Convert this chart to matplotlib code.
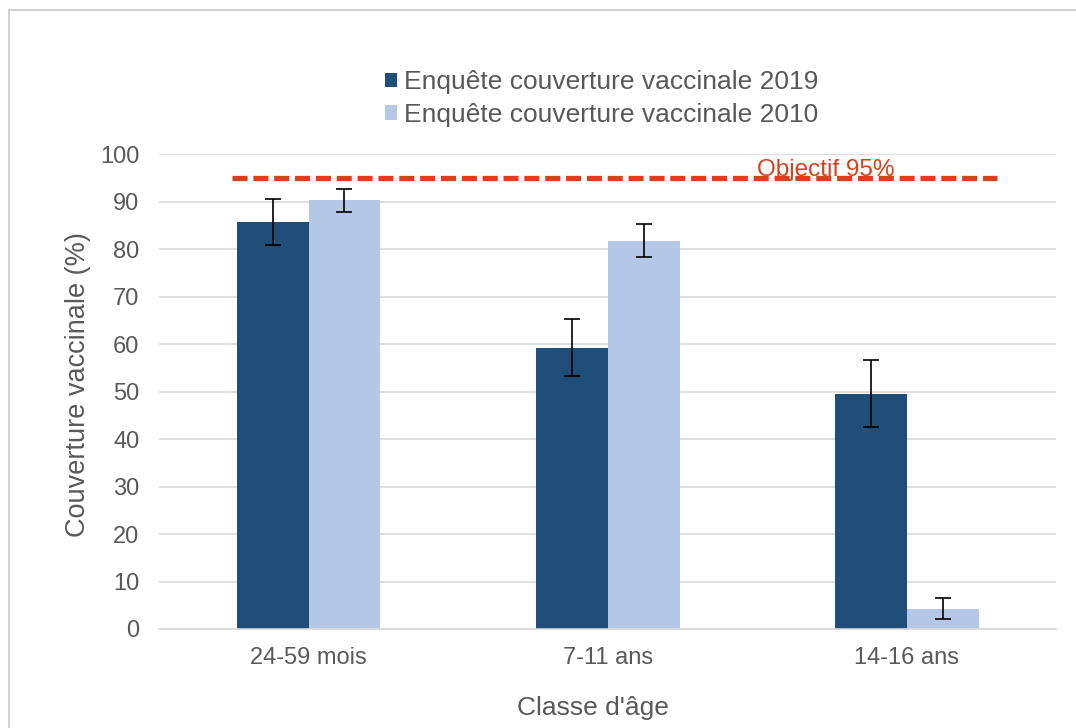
import matplotlib.pyplot as plt
import matplotlib.patches as mpatches
import numpy as np

plt.rcParams['font.family'] = ['Liberation Sans', 'DejaVu Sans']

# données
categories = ['24-59 mois', '7-11 ans', '14-16 ans']
cv_2019 = [85.8, 59.3, 49.6]
err_2019 = [4.8, 6.1, 7.0]
cv_2010 = [90.3, 81.8, 4.3]
err_2010 = [2.5, 3.5, 2.2]
objectif = 95

dark = '#1F4E79'
light = '#B4C7E7'
grid = '#D9D9D9'
red = '#D9411E'
txt = '#595959'

fig = plt.figure(figsize=(10.76, 7.28), dpi=100)
ax = fig.add_axes([0.1478, 0.136, 0.834, 0.652])

x = np.arange(len(categories))
w = 0.24
b1 = ax.bar(x - w / 2, cv_2019, w, color=dark, label='Enquête couverture vaccinale 2019',
            yerr=err_2019, capsize=6, error_kw=dict(ecolor='black', elinewidth=1.2, capthick=1.2))
b2 = ax.bar(x + w / 2, cv_2010, w, color=light, label='Enquête couverture vaccinale 2010',
            yerr=err_2010, capsize=6, error_kw=dict(ecolor='black', elinewidth=1.2, capthick=1.2))

# ligne objectif
ax.plot([-0.255, 2.30], [objectif, objectif], color=red, lw=3.8, ls=(0, (2.85, 1.1)), zorder=3)
ax.text(1.73, objectif - 0.6, 'Objectif 95%', color=red, fontsize=17.5, ha='center', va='bottom')

ax.set_xlim(-0.5, 2.5)
ax.set_ylim(0, 100)
ax.set_yticks(range(0, 101, 10))
ax.set_xticks(x)
ax.set_xticklabels(categories)
ax.yaxis.grid(True, color=grid, lw=1.2)
ax.set_axisbelow(True)
for s in ['top', 'right', 'left']:
    ax.spines[s].set_visible(False)
ax.spines['bottom'].set_color(grid)
ax.spines['bottom'].set_linewidth(1.2)
ax.tick_params(axis='both', length=0, labelsize=17, labelcolor=txt)
ax.tick_params(axis='y', pad=14)
ax.tick_params(axis='x', pad=13)

ax.set_ylabel('Couverture vaccinale (%)', fontsize=19.5, color=txt)
ax.set_xlabel("Classe d'âge", fontsize=19, color=txt)
ax.yaxis.set_label_coords(-0.076, 0.514)
ax.xaxis.set_label_coords(0.483, -0.142)

ax.legend(loc='upper left', bbox_to_anchor=(367 / 1076, 1 - 52 / 728), bbox_transform=fig.transFigure,
          frameon=False, fontsize=19, handlelength=0.45, handleheight=0.45, handletextpad=0.25,
          labelcolor=txt, labelspacing=0.32, borderpad=0.2)

# cadre
fig.patches.append(mpatches.Rectangle((9 / 1076, -0.1), 1.2, 1 - 10 / 728 + 0.1, transform=fig.transFigure,
                                      fill=False, edgecolor='#C8C8C8', lw=1.2))

fig.savefig('out.png', dpi=100)
